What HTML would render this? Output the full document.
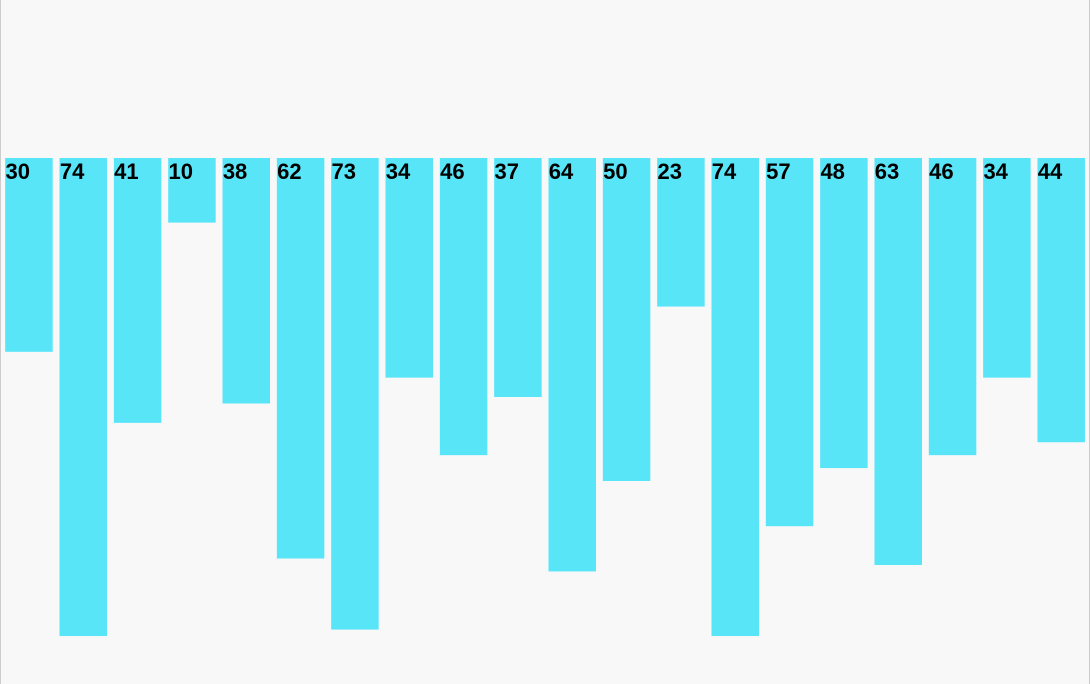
<!DOCTYPE html>
<html><head><style>
body{margin:0;background:#f9f8f9;}
#c{position:absolute;left:0;top:0;width:1088px;height:684px;border-left:1px solid #ccc;border-right:1px solid #ccc;background:#f9f8f9;}
</style></head><body>
<svg id="c" width="1088" height="684" xmlns="http://www.w3.org/2000/svg"></svg>
<script>
const values=[30,74,41,10,38,62,73,34,46,37,64,50,23,74,57,48,63,46,34,44];
const svg=document.getElementById('c');
const top0=158, scale=6.46, x0=4.2, step=54.33, bw=47.5;
function xPos(i){return x0+i*step;}
function yLen(v){return v*scale;}
values.forEach((v,i)=>{
  const r=document.createElementNS('http://www.w3.org/2000/svg','rect');
  
  
  r.setAttribute('x',xPos(i));r.setAttribute('y',top0);
  r.setAttribute('width',bw);r.setAttribute('height',yLen(v));
  r.setAttribute('fill','#58e5f8');
  svg.appendChild(r);
  const t=document.createElementNS('http://www.w3.org/2000/svg','text');
  
  
  t.setAttribute('x',xPos(i)+0.3);t.setAttribute('y',top0+21);
  t.setAttribute('font-family','Liberation Sans, sans-serif');
  t.setAttribute('font-weight','bold');t.setAttribute('font-size','22');
  t.setAttribute('fill','#000');
  t.textContent=v;
  svg.appendChild(t);
});
</script>
</body></html>
